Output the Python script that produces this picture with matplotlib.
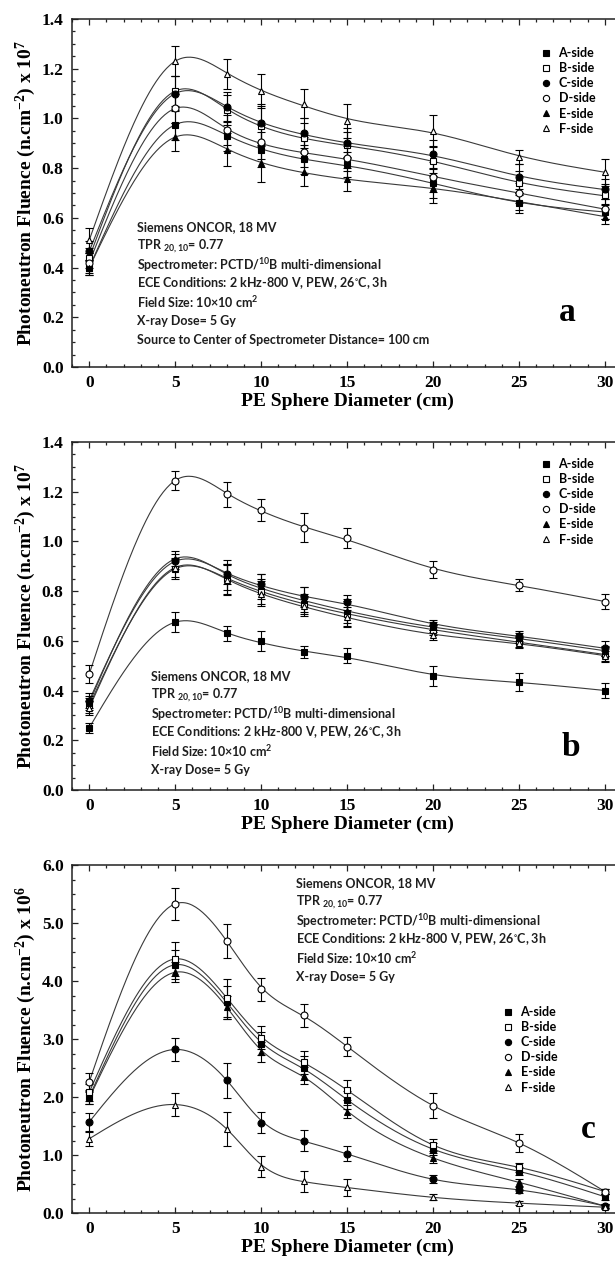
import numpy as np
import matplotlib
matplotlib.use("Agg")
import matplotlib.pyplot as plt
from matplotlib.lines import Line2D
from matplotlib.ticker import MultipleLocator

plt.rcParams['mathtext.default'] = 'regular'

# PE sphere diameters (cm)
diam = [0, 5, 8, 10, 12.5, 15, 20, 25, 30]
sides = ['A-side', 'B-side', 'C-side', 'D-side', 'E-side', 'F-side']

# panel a, fluence x 1e7
a_A = [0.40, 0.975, 0.93, 0.875, 0.835, 0.815, 0.74, 0.66, 0.625]
a_B = [0.44, 1.11, 1.035, 0.97, 0.92, 0.895, 0.83, 0.74, 0.69]
a_C = [0.465, 1.10, 1.045, 0.98, 0.94, 0.90, 0.855, 0.765, 0.715]
a_D = [0.42, 1.04, 0.955, 0.905, 0.865, 0.84, 0.765, 0.70, 0.635]
a_E = [0.40, 0.925, 0.875, 0.82, 0.785, 0.755, 0.72, 0.665, 0.605]
a_F = [0.51, 1.23, 1.18, 1.11, 1.06, 0.99, 0.95, 0.845, 0.785]
a_errA = [0.03, 0.06, 0.06, 0.07, 0.06, 0.05, 0.06, 0.04, 0.03]
a_errB = [0.04, 0.06, 0.06, 0.08, 0.06, 0.05, 0.06, 0.05, 0.04]
a_errC = [0.04, 0.07, 0.06, 0.08, 0.06, 0.06, 0.06, 0.05, 0.04]
a_errD = [0.04, 0.06, 0.06, 0.07, 0.06, 0.05, 0.06, 0.04, 0.04]
a_errE = [0.03, 0.055, 0.065, 0.075, 0.055, 0.045, 0.06, 0.035, 0.03]
a_errF = [0.05, 0.06, 0.06, 0.07, 0.06, 0.07, 0.065, 0.03, 0.05]

# panel b, fluence x 1e7
b_A = [0.25, 0.675, 0.63, 0.60, 0.555, 0.54, 0.46, 0.435, 0.40]
b_B = [0.34, 0.89, 0.85, 0.80, 0.75, 0.71, 0.645, 0.595, 0.545]
b_C = [0.36, 0.92, 0.87, 0.83, 0.775, 0.755, 0.665, 0.62, 0.57]
b_D = [0.466, 1.245, 1.19, 1.126, 1.056, 1.015, 0.887, 0.825, 0.758]
b_E = [0.35, 0.93, 0.865, 0.82, 0.765, 0.72, 0.655, 0.61, 0.56]
b_F = [0.33, 0.895, 0.845, 0.79, 0.74, 0.695, 0.625, 0.59, 0.54]
b_errA = [0.02, 0.04, 0.03, 0.04, 0.025, 0.03, 0.04, 0.035, 0.03]
b_errB = [0.03, 0.04, 0.06, 0.05, 0.04, 0.05, 0.02, 0.02, 0.03]
b_errC = [0.03, 0.03, 0.04, 0.04, 0.04, 0.03, 0.02, 0.02, 0.03]
b_errD = [0.035, 0.04, 0.05, 0.045, 0.06, 0.04, 0.035, 0.025, 0.03]
b_errE = [0.03, 0.03, 0.06, 0.05, 0.05, 0.05, 0.02, 0.02, 0.02]
b_errF = [0.03, 0.04, 0.06, 0.05, 0.04, 0.04, 0.02, 0.02, 0.02]

# panel c, fluence x 1e6
c_A = [2.00, 4.28, 3.63, 2.92, 2.50, 1.95, 1.10, 0.72, 0.28]
c_B = [2.08, 4.38, 3.71, 3.02, 2.60, 2.12, 1.17, 0.79, 0.37]
c_C = [1.57, 2.82, 2.29, 1.56, 1.25, 1.02, 0.58, 0.40, 0.12]
c_D = [2.26, 5.33, 4.69, 3.86, 3.41, 2.87, 1.85, 1.21, 0.37]
c_E = [1.98, 4.15, 3.55, 2.77, 2.37, 1.75, 0.95, 0.53, 0.12]
c_F = [1.28, 1.87, 1.45, 0.80, 0.55, 0.44, 0.27, 0.17, 0.10]
c_errA = [0.12, 0.25, 0.28, 0.20, 0.20, 0.15, 0.10, 0.07, 0.05]
c_errB = [0.15, 0.30, 0.33, 0.20, 0.20, 0.17, 0.10, 0.08, 0.05]
c_errC = [0.15, 0.20, 0.30, 0.18, 0.18, 0.13, 0.07, 0.05, 0.03]
c_errD = [0.15, 0.28, 0.30, 0.20, 0.20, 0.17, 0.22, 0.15, 0.05]
c_errE = [0.10, 0.17, 0.20, 0.17, 0.15, 0.12, 0.08, 0.06, 0.04]
c_errF = [0.12, 0.20, 0.30, 0.18, 0.18, 0.14, 0.05, 0.04, 0.03]

markers = [('s', 'black'), ('s', 'white'), ('o', 'black'),
           ('o', 'white'), ('^', 'black'), ('^', 'white')]

info = ['Siemens ONCOR, 18 MV',
        'TPR $_{20,10}$= 0.77',
        'Spectrometer: PCTD/$^{10}$B multi-dimensional',
        'ECE Conditions: 2 kHz-800 V, PEW, 26$^{\\circ}$C, 3h',
        'Field Size: 10\u00d710 cm$^2$',
        'X-ray Dose= 5 Gy']


def smooth(x, y, lam=3000.0):
    # penalised smoothing fit on a 0.1 cm grid, pinned at 0 and 5 cm
    grid = np.round(np.arange(0, 30.01, 0.1), 1)
    n = len(grid)
    w = np.zeros(n)
    target = np.zeros(n)
    for xi, yi in zip(x, y):
        k = int(round(xi * 10))
        w[k] = 1e5 if xi <= 5 else (20.0 if xi <= 8 else 1.0)
        target[k] = yi
    D = np.diff(np.eye(n), 2, axis=0)
    f = np.linalg.solve(np.diag(w) + lam * D.T @ D, w * target)
    return grid, f


W, H = 615, 1261
fig = plt.figure(figsize=(W / 100, H / 100), dpi=100)

serif = dict(family='Liberation Serif', weight='bold')
sans = dict(family='Lato', weight='bold')


def panel(top, ys, errs, ymax, ystep, exp, letter, letter_xy,
          leg_xy, info_xy, lines, lam):
    bottom = top + 348
    ax = fig.add_axes([72 / W, 1 - bottom / H, 550 / W, 348 / H])
    for y in ys:
        gx, gy = smooth(diam, y, lam)
        ax.plot(gx, gy, color='#3a3a3a', lw=0.8, zorder=2)
    for y, e, (m, fc) in zip(ys, errs, markers):
        ax.errorbar(diam, y, yerr=e, fmt=m, ms=5, mfc=fc, mec='black',
                    mew=0.8, ecolor='black', elinewidth=0.8, capsize=3,
                    capthick=0.8, zorder=3)
    ax.set_xlim(-1, 31)
    ax.set_ylim(0, ymax)
    ax.xaxis.set_major_locator(MultipleLocator(5))
    ax.xaxis.set_minor_locator(MultipleLocator(1))
    ax.yaxis.set_major_locator(MultipleLocator(ystep))
    ax.yaxis.set_minor_locator(MultipleLocator(ystep / 4))
    ax.tick_params(which='both', direction='in', top=True, right=True,
                   width=0.9, color='#222')
    ax.tick_params(which='major', length=4.5, labelsize=12.5, pad=6)
    ax.tick_params(which='minor', length=2.5)
    for lab in ax.get_xticklabels() + ax.get_yticklabels():
        lab.set_fontfamily('Liberation Serif')
        lab.set_fontweight('bold')
    ax.yaxis.set_major_formatter(plt.FormatStrFormatter('%.1f'))
    for s in ax.spines.values():
        s.set_linewidth(1.1)
        s.set_color('#222')
    ax.set_xlabel('PE Sphere Diameter (cm)', fontsize=14, labelpad=1, **serif)
    ax.set_ylabel('Photoneutron Fluence (n.cm$^{-2}$) x 10$^{%d}$' % exp,
                  fontsize=14, labelpad=3, **serif)

    handles = [Line2D([], [], ls='none', marker=m, mfc=fc, mec='black',
                      mew=0.8, ms=4.5, color='black') for m, fc in markers]
    ax.legend(handles, sides, loc='upper left',
              bbox_to_anchor=((leg_xy[0] - 72) / 550, (bottom - leg_xy[1]) / 348),
              frameon=False, borderpad=0, borderaxespad=0, handlelength=0.8,
              handletextpad=0.6, labelspacing=0.25,
              prop=dict(family='Lato', weight='bold', size=9))

    for i, t in enumerate(lines):
        ax.text((info_xy[0] - 72) / 550,
                (bottom - info_xy[1] - i * 18.8) / 348, t,
                transform=ax.transAxes, fontsize=9, color='#1e1e1e',
                va='center', ha='left', **sans)
    ax.text((letter_xy[0] - 72) / 550, (bottom - letter_xy[1]) / 348, letter,
            transform=ax.transAxes, fontsize=24, ha='center', va='center',
            **serif)
    return ax


panel(19, [a_A, a_B, a_C, a_D, a_E, a_F],
      [a_errA, a_errB, a_errC, a_errD, a_errE, a_errF],
      1.4, 0.2, 7, 'a', (567, 312), (541, 47), (137, 227),
      info + ['Source to Center of Spectrometer Distance= 100 cm'], 3000.0)

panel(442, [b_A, b_B, b_C, b_D, b_E, b_F],
      [b_errA, b_errB, b_errC, b_errD, b_errE, b_errF],
      1.4, 0.2, 7, 'b', (571, 748), (541, 458), (151, 676), info, 3000.0)

panel(865, [c_A, c_B, c_C, c_D, c_E, c_F],
      [c_errA, c_errB, c_errC, c_errD, c_errE, c_errF],
      6.0, 1.0, 6, 'c', (588, 1130), (503, 1006), (296, 883), info, 200.0)

fig.savefig('out.png', dpi=100, facecolor='white')
